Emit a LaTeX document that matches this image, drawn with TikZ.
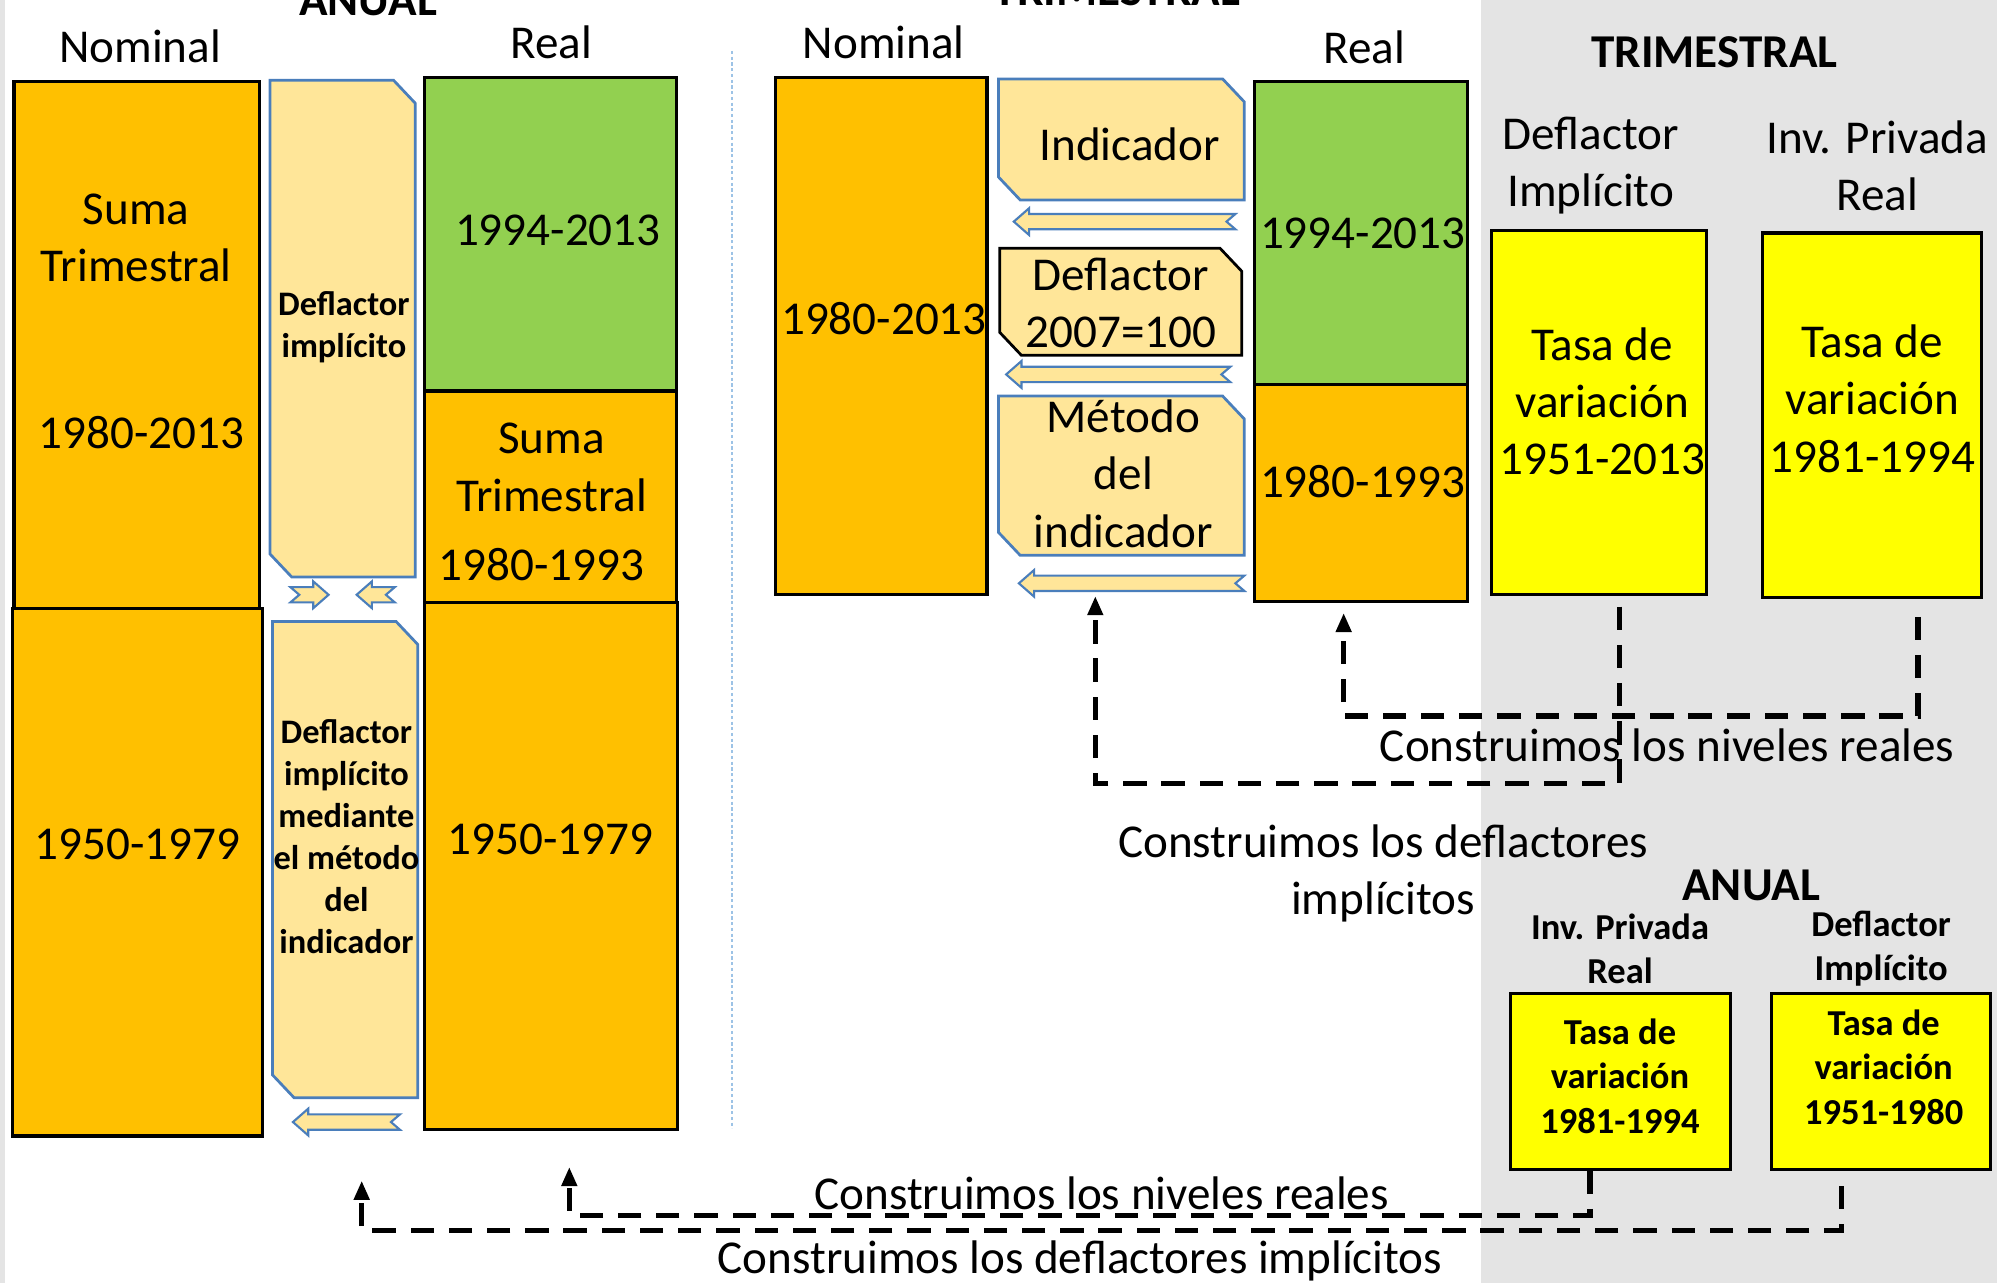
\documentclass[tikz,border=0pt]{standalone}
\usepackage{fontspec}
\setmainfont{Carlito}
\usetikzlibrary{positioning,arrows.meta,fit,calc}

\definecolor{cOrange}{HTML}{FFC000}
\definecolor{cGreen}{HTML}{92D050}
\definecolor{cYellow}{HTML}{FFFF00}
\definecolor{cLight}{HTML}{FFE699}
\definecolor{cBlue}{HTML}{4A7EBB}
\definecolor{cGray}{HTML}{E4E4E4}
\definecolor{cDots}{HTML}{9DC3E6}

\begin{document}
\begin{tikzpicture}[
    x=0.6pt, y=-0.6pt,
    box/.style={draw=black, line width=1.5pt, inner sep=0pt},
    orangebox/.style={box, fill=cOrange},
    greenbox/.style={box, fill=cGreen},
    yellowbox/.style={box, fill=cYellow},
    snip/.style={fill=cLight, line width=1.3pt},
    blockarrow/.style={fill=cLight, draw=cBlue, line width=1pt},
    bigtxt/.style={font=\fontsize{22.2}{27}\selectfont, align=center, inner sep=0pt},
    bigbold/.style={font=\bfseries\fontsize{22.2}{27}\selectfont, align=center, inner sep=0pt},
    smalltxt/.style={font=\bfseries\fontsize{16.2}{19.8}\selectfont, align=center, inner sep=0pt},
    anualtxt/.style={font=\bfseries\fontsize{17.2}{21}\selectfont, align=center, inner sep=0pt},
    conn/.style={draw, line width=2.5pt, dash pattern=on 11pt off 7pt, -{Triangle[length=9pt,width=7pt]}}
]

\def\snipx{17}
\def\snipy{18}
\def\headlen{12}
\def\headhalf{10.5}
\def\shafthalf{6}
\def\notch{7}

% page and backgrounds
\useasboundingbox (0,0) rectangle (1568,1007);
\fill[white] (0,0) rectangle (1568,1007);
\fill[cGray] (0,0) rectangle (4,1007);
\fill[cGray] (1163,0) rectangle (1568,1007);
\draw[cDots, line width=0.9pt, dash pattern=on 1.5pt off 1.2pt] (575,40) -- (575,886);

% snipped boxes
\foreach \xa/\ya/\xb/\yb/\edge in {212/63/326/453/cBlue, 214/488/328/862/cBlue, 784/62/977/157/cBlue, 785/195/975/279/black, 784/311/977/436/cBlue}
  \draw[snip, draw=\edge] (\xa,\ya) -- ({\xb-\snipx},\ya) -- (\xb,{\ya+\snipy}) -- (\xb,\yb) -- ({\xa+\snipx},\yb) -- (\xa,{\yb-\snipy}) -- cycle;

% block arrows (tip x / tail x / y)
\foreach \xt/\xe/\yc in {258/228/467, 280/310/467, 230/314/881, 796/970/174, 790/966/294, 800/977/458} {
  \pgfmathsetmacro\sg{sign(\xe-\xt)}
  \draw[blockarrow] (\xt,\yc) -- ({\xt+\sg*\headlen},{\yc-\headhalf}) -- ({\xt+\sg*\headlen},{\yc-\shafthalf})
    -- (\xe,{\yc-\shafthalf}) -- ({\xe-\sg*\notch},\yc) -- (\xe,{\yc+\shafthalf})
    -- ({\xt+\sg*\headlen},{\yc+\shafthalf}) -- ({\xt+\sg*\headlen},{\yc+\headhalf}) -- cycle;
}

% ANUAL
\node[bigbold] (atitle) at (289,0) {ANUAL};
\node[bigtxt] (anomlab) at (110,36) {Nominal};
\node[bigtxt] (areallab) at (433,33) {Real};
\node[orangebox, fit={(11,64) (204,478)}] (anom1) {};
\node[orangebox, fit={(10,478) (206,892)}] (anom2) {};
\node[bigtxt] (anom1a) at (107,187) {Suma\\Trimestral};
\node[bigtxt] (anom1b) at (111,340) {1980-2013};
\node[bigtxt] (anom2a) at (108,663) {1950-1979};
\node[smalltxt] (adefl1) at (270,257) {Deflactor\\implícito};
\node[smalltxt] (adefl2) at (272,657) {Deflactor\\implícito\\mediante\\el método\\del\\indicador};
\node[greenbox, fit={(333,61) (531,307)}] (areal1) {};
\node[orangebox, fit={(333,307) (531,473)}] (areal2) {};
\node[orangebox, fit={(333,473) (532,887)}] (areal3) {};
\node[bigtxt] (areal1a) at (438,181) {1994-2013};
\node[bigtxt] (areal2a) at (433,367) {Suma\\Trimestral};
\node[bigtxt] (areal2b) at (425,443) {1980-1993};
\node[bigtxt] (areal3a) at (432,659) {1950-1979};

% TRIMESTRAL
\node[bigbold] (ttitle) at (877,-8) {TRIMESTRAL};
\node[bigtxt] (tnomlab) at (694,33) {Nominal};
\node[bigtxt] (treallab) at (1071,37) {Real};
\node[orangebox, fit={(609,61) (775,467)}] (tnom) {};
\node[bigtxt] (tnoma) at (694,250) {1980-2013};
\node[bigtxt] (tind) at (887,113) {Indicador};
\node[bigtxt] (tdefl) at (880,238) {Deflactor\\2007=100};
\node[bigtxt] (tmet) at (882,372) {Método\\del\\indicador};
\node[greenbox, fit={(985,64) (1152,302)}] (treal1) {};
\node[orangebox, fit={(985,302) (1152,472)}] (treal2) {};
\node[bigtxt] (treal1a) at (1070,183) {1994-2013};
\node[bigtxt] (treal2a) at (1070,378) {1980-1993};

% tasas trimestrales
\node[bigbold] (gtitle) at (1346,41) {TRIMESTRAL};
\node[bigtxt] (ydeflab) at (1249,130) {Deflactor\\Implícito};
\node[bigtxt] (yinvlab) at (1474,130) {Inv. Privada\\Real};
\node[yellowbox, fit={(1171,181) (1340,467)}] (ydef) {};
\node[yellowbox, fit={(1384,183) (1556,469)}] (yinv) {};
\node[bigtxt] (ydefa) at (1258,315) {Tasa de\\variación\\1951-2013};
\node[bigtxt] (yinva) at (1470,313) {Tasa de\\variación\\1981-1994};

% tasas anuales
\node[bigbold] (gtitle2) at (1375,695) {ANUAL};
\node[anualtxt] (ainvlab) at (1272,745) {Inv. Privada\\Real};
\node[anualtxt] (adeflab) at (1477,745) {Deflactor\\Implícito};
\node[yellowbox, fit={(1186,780) (1359,918)}] (ainv) {};
\node[yellowbox, fit={(1391,780) (1563,918)}] (adef) {};
\node[anualtxt] (ainva) at (1272,845) {Tasa de\\variación\\1981-1994};
\node[anualtxt] (adefa) at (1479,838) {Tasa de\\variación\\1951-1980};

% labels
\node[bigtxt] (lreal) at (1309,585) {Construimos los niveles reales};
\node[bigtxt] (ldefl) at (1086,686) {Construimos los deflactores\\implícitos};
\node[bigtxt] (lreal2) at (865,937) {Construimos los niveles reales};
\node[bigtxt] (ldefl2) at (848,990) {Construimos los deflactores implícitos};

% dashed connectors
\coordinate (tipdefl) at (860,468);
\coordinate (tipanual) at (284,927);
\draw[conn] ($(ydef.south)+(16,8)$) |- ($(tipdefl)+(0,147)$) -- (tipdefl);
\draw[conn] ($(yinv.south)+(36,14)$) |- ($(treal2.south)+(-13.5,89)$) -- ($(treal2.south)+(-13.5,8)$);
\draw[conn] ($(ainv.south)+(-24,0)$) |- ($(areal3.south)+(14.5,66)$) -- ($(areal3.south)+(14.5,28)$);
\draw[conn] ($(adef.south)+(-31,12)$) |- ($(tipanual)+(0,39)$) -- (tipanual);

\end{tikzpicture}
\end{document}
